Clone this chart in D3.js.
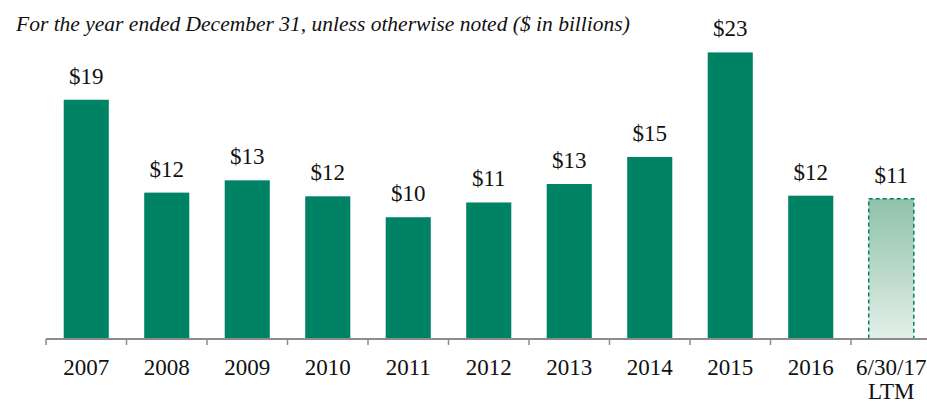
<!DOCTYPE html>
<html>
<head>
<meta charset="utf-8">
<style>
  body { margin: 0; background: #fff; }
  svg text { font-family: "Liberation Serif", "Times New Roman", serif; fill: #111; }
</style>
</head>
<body>
<svg id="chart"></svg>
<script src="https://cdn.jsdelivr.net/npm/d3@7"></script>
<script>
var categories = ["2007", "2008", "2009", "2010", "2011", "2012", "2013", "2014", "2015", "2016", "6/30/17\nLTM"];
var values = [19.45, 11.9, 12.9, 11.6, 9.9, 11.1, 12.6, 14.8, 23.3, 11.65, 11.4];
var estimated = [false, false, false, false, false, false, false, false, false, false, true];
var subtitle = "For the year ended December 31, unless otherwise noted ($ in billions)";

var W = 927, H = 403;
var margin = {top: 43.8, left: 46, bottom: 64};

var svg = d3.select("#chart").attr("width", W).attr("height", H);

var x = d3.scaleBand()
    .domain(categories)
    .range([margin.left, margin.left + 80.5 * categories.length])
    .paddingInner(0.44)
    .paddingOuter(0.22);

var y = d3.scaleLinear()
    .domain([0, 24])
    .range([H - margin.bottom, margin.top]);

var defs = svg.append("defs");
var grad = defs.append("linearGradient")
    .attr("id", "ltm").attr("x1", 0).attr("y1", 0).attr("x2", 0).attr("y2", 1);
grad.append("stop").attr("offset", "0%").attr("stop-color", "#8fc2aa");
grad.append("stop").attr("offset", "100%").attr("stop-color", "#e3efe9");

svg.append("text")
    .attr("x", 16).attr("y", 31)
    .style("font-style", "italic")
    .style("font-size", "21.5px")
    .text(subtitle);

var data = categories.map((c, i) => ({cat: c, v: values[i], est: estimated[i]}));

svg.selectAll(".bar")
  .data(data)
  .enter().append("rect")
    .attr("class", "bar")
    .attr("x", d => x(d.cat))
    .attr("width", x.bandwidth())
    .attr("y", d => y(d.v))
    .attr("height", d => y(0) - y(d.v))
    .attr("fill", d => d.est ? "url(#ltm)" : "#008264")
    .attr("stroke", d => d.est ? "#008264" : "none")
    .attr("stroke-width", 1.5)
    .attr("stroke-dasharray", d => d.est ? "4,3" : null);

svg.selectAll(".lbl")
  .data(data)
  .enter().append("text")
    .attr("class", "lbl")
    .attr("x", d => x(d.cat) + x.bandwidth() / 2)
    .attr("y", d => y(d.v) - 16)
    .attr("text-anchor", "middle")
    .style("font-size", "23px")
    .text(d => "$" + Math.round(d.v));

// axis
var xaxis = svg.append("g")
    .attr("transform", "translate(0," + y(0) + ")");
var xr = x.range();
xaxis.append("line")
    .attr("x1", xr[0]).attr("x2", xr[1])
    .attr("stroke", "#8c8c8c").attr("stroke-width", 2);
xaxis.selectAll(".tick")
  .data(categories)
  .enter().append("line")
    .attr("class", "tick")
    .attr("x1", d => x(d) - x.step() * x.paddingOuter())
    .attr("x2", d => x(d) - x.step() * x.paddingOuter())
    .attr("y1", 0).attr("y2", 6)
    .attr("stroke", "#8c8c8c").attr("stroke-width", 1.5);

var tl = xaxis.selectAll(".tl")
  .data(categories)
  .enter().append("text")
    .attr("class", "tl")
    .attr("text-anchor", "middle")
    .attr("x", d => x(d) + x.bandwidth() / 2)
    .attr("y", 36)
    .style("font-size", "23px");
tl.each(function(d) {
  var parts = d.split("\n");
  var t = d3.select(this);
  parts.forEach((p, i) => {
    t.append("tspan")
      .attr("x", x(d) + x.bandwidth() / 2)
      .attr("dy", i === 0 ? 0 : 24)
      .text(p);
  });
});
</script>
</body>
</html>
